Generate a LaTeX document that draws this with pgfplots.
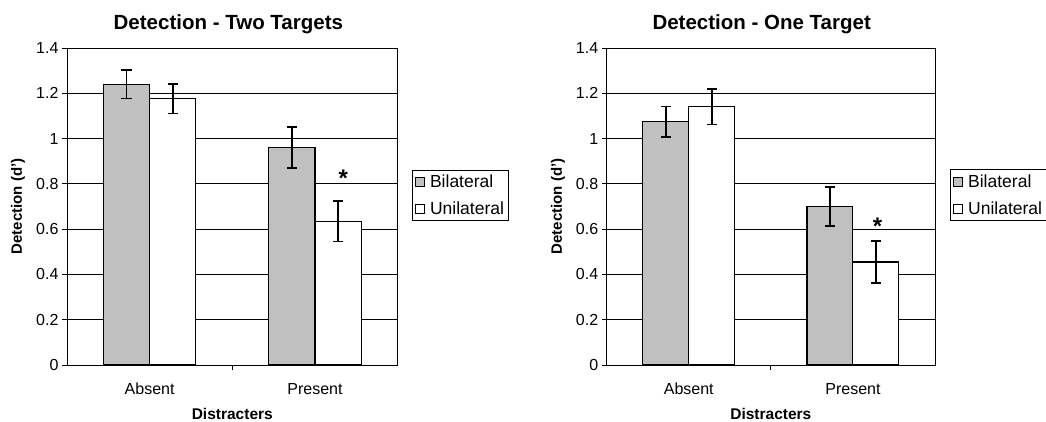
\documentclass[border=0pt]{standalone}
\usepackage{pgfplots}
\pgfplotsset{compat=1.18}
\usepackage{fontspec}
\setmainfont{Liberation Sans}
\definecolor{barGray}{HTML}{C0C0C0}
\pgfplotsset{
 mystyle/.style={
  scale only axis, height=317pt,
  ymin=0, ymax=1.4, ytick={0,0.2,0.4,0.6,0.8,1,1.2,1.4},
  xmin=-0.5, xmax=1.5,
  ybar=0pt, bar width=0.28,
  ymajorgrids, grid style={black, line width=0.9pt},
  axis line style={black, line width=0.9pt},
  xtick={0.5}, xticklabels={},
  extra x ticks={0,1}, extra x tick labels={Absent,Present},
  extra x tick style={major tick length=0pt, xticklabel style={text height=12pt, text depth=3pt, yshift=-13.5pt}},
  tick align=outside, ytick pos=left, xtick pos=bottom,
  major tick length=5pt,
  tick style={black, line width=0.9pt},
  /pgf/number format/assume math mode=true,
  /pgf/number format/fixed,
  ticklabel style={font=\fontsize{16}{18}\selectfont},
  xlabel={Distracters}, ylabel={Detection (d')},
  xlabel style={font=\bfseries\fontsize{15.5}{18}\selectfont, at={(axis description cs:0.5,0)}, yshift=-49pt, anchor=center},
  ylabel style={font=\bfseries\fontsize{15}{18}\selectfont, anchor=center},
  title style={font=\bfseries\fontsize{20.5}{24}\selectfont, yshift=18pt, anchor=center},
  legend style={anchor=north west, draw=black, line width=0.9pt,
    font=\fontsize{17.5}{20}\selectfont, legend cell align=left, inner sep=2.5pt, row sep=9pt,
    /tikz/every odd column/.append style={column sep=3pt}},
  legend image code/.code={\draw[#1, draw=black, line width=0.8pt] (2pt,-4.5pt) rectangle (11pt,4.5pt);},
 },
 myerr/.style={error bars/.cd, y dir=both, y explicit,
   error bar style={line width=1.6pt, black, solid},
   error mark options={rotate=90, mark size=5.2pt, line width=1.6pt, black, solid}},
}
\begin{document}
\begin{tikzpicture}
\useasboundingbox (0,0) rectangle (1046pt,421pt);
\begin{axis}[mystyle, width=330.6pt, at={(67pt,56pt)}, anchor=south west,
  title={Detection - Two Targets},
  title style={at={(axis description cs:0.488,1)}},
  ylabel style={at={(axis description cs:-0.148,0.5)}},
  legend style={at={(rel axis cs:1.0445,0.615)}}]
\addplot[fill=barGray, draw=black, line width=1.1pt, myerr] coordinates {(0,1.24) +- (0,0.063) (1,0.96) +- (0,0.09)};
\addplot[fill=white, draw=black, line width=1.1pt, myerr] coordinates {(0,1.175) +- (0,0.065) (1,0.635) +- (0,0.09)};
\legend{Bilateral,Unilateral}
\node[font=\bfseries\fontsize{24}{26}\selectfont] at (axis cs:1.172,0.825) {*};
\end{axis}
\begin{axis}[mystyle, width=328.3pt, at={(606.7pt,56pt)}, anchor=south west,
  title={Detection - One Target},
  title style={at={(axis description cs:0.472,1)}},
  ylabel style={at={(axis description cs:-0.148,0.5)}},
  legend style={at={(rel axis cs:1.047,0.617)}}]
\addplot[fill=barGray, draw=black, line width=1.1pt, myerr] coordinates {(0,1.075) +- (0,0.067) (1,0.70) +- (0,0.085)};
\addplot[fill=white, draw=black, line width=1.1pt, myerr] coordinates {(0,1.14) +- (0,0.078) (1,0.455) +- (0,0.093)};
\legend{Bilateral,Unilateral}
\node[font=\bfseries\fontsize{24}{26}\selectfont] at (axis cs:1.15,0.615) {*};
\end{axis}
\end{tikzpicture}
\end{document}
